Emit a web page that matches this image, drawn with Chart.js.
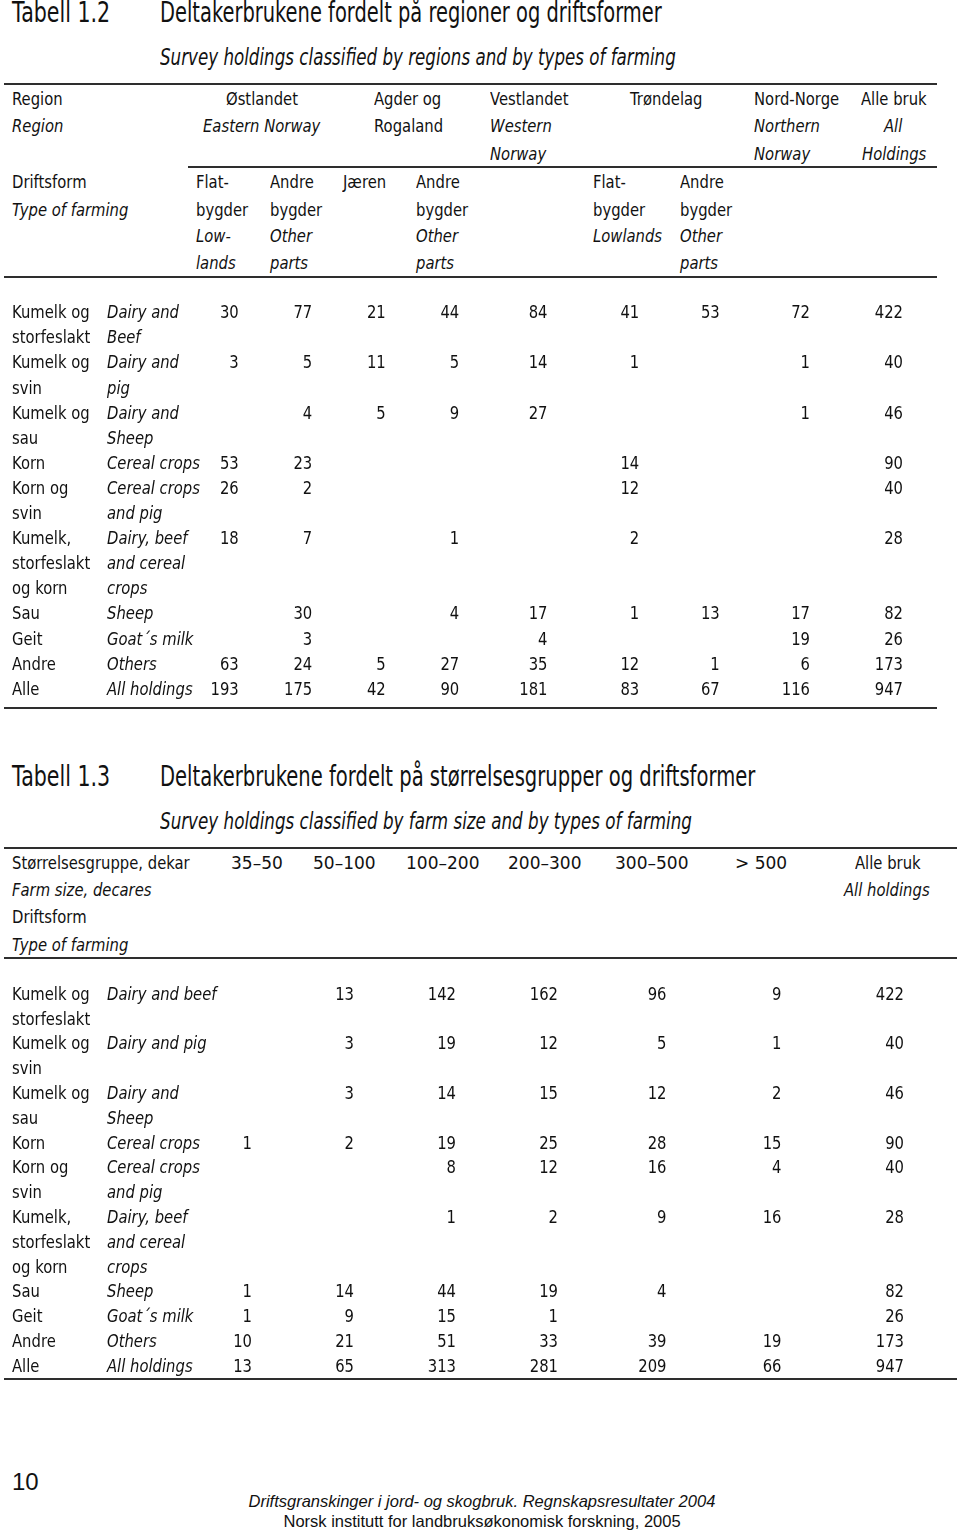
<!DOCTYPE html>
<html><head><meta charset="utf-8">
<script src="https://cdn.jsdelivr.net/npm/chart.js@4.4.1/dist/chart.umd.min.js"></script>
<style>
html,body{margin:0;padding:0;background:#fff;}
#page{position:relative;width:960px;height:1530px;overflow:hidden;background:#fff;color:#111;
  font-family:"DejaVu Sans",sans-serif;}
.t{position:absolute;white-space:nowrap;line-height:1;transform-origin:0 0;}
.i{font-style:italic;}
.foot{font-family:"Liberation Sans",Arial,sans-serif;}
.rule{position:absolute;height:2px;background:#2e2e2e;}
canvas{position:absolute;left:0;}
</style></head><body><div id="page">
<canvas id="c1" width="960" height="420" style="top:290px"></canvas>
<canvas id="c2" width="960" height="410" style="top:970px"></canvas>
</div>
<script>
// ---------- DATA ----------
const regionColumns = ['Østlandet flatbygder','Østlandet andre bygder','Jæren','Agder og Rogaland andre bygder','Vestlandet','Trøndelag flatbygder','Trøndelag andre bygder','Nord-Norge','Alle bruk'];
const sizeColumns = ['35–50','50–100','100–200','200–300','300–500','> 500','Alle bruk'];

const farmTypesNo = [['Kumelk og','storfeslakt'],['Kumelk og','svin'],['Kumelk og','sau'],['Korn'],['Korn og','svin'],['Kumelk,','storfeslakt','og korn'],['Sau'],['Geit'],['Andre'],['Alle']];
const farmTypesEnRegion = [['Dairy and','Beef'],['Dairy and','pig'],['Dairy and','Sheep'],['Cereal crops'],['Cereal crops','and pig'],['Dairy, beef','and cereal','crops'],['Sheep'],['Goat\u00b4s milk'],['Others'],['All holdings']];
const farmTypesEnSize = [['Dairy and beef'],['Dairy and pig'],['Dairy and','Sheep'],['Cereal crops'],['Cereal crops','and pig'],['Dairy, beef','and cereal','crops'],['Sheep'],['Goat\u00b4s milk'],['Others'],['All holdings']];

// Tabell 1.2 – by region (columns as regionColumns)
const regionDairyBeef   = [30, 77, 21, 44, 84, 41, 53, 72, 422];
const regionDairyPig    = [3, 5, 11, 5, 14, 1, null, 1, 40];
const regionDairySheep  = [null, 4, 5, 9, 27, null, null, 1, 46];
const regionCereal      = [53, 23, null, null, null, 14, null, null, 90];
const regionCerealPig   = [26, 2, null, null, null, 12, null, null, 40];
const regionDairyCereal = [18, 7, null, 1, null, 2, null, null, 28];
const regionSheep       = [null, 30, null, 4, 17, 1, 13, 17, 82];
const regionGoat        = [null, 3, null, null, 4, null, null, 19, 26];
const regionOthers      = [63, 24, 5, 27, 35, 12, 1, 6, 173];
const regionAll         = [193, 175, 42, 90, 181, 83, 67, 116, 947];

// Tabell 1.3 – by farm size (columns as sizeColumns)
const sizeDairyBeef   = [null, 13, 142, 162, 96, 9, 422];
const sizeDairyPig    = [null, 3, 19, 12, 5, 1, 40];
const sizeDairySheep  = [null, 3, 14, 15, 12, 2, 46];
const sizeCereal      = [1, 2, 19, 25, 28, 15, 90];
const sizeCerealPig   = [null, null, 8, 12, 16, 4, 40];
const sizeDairyCereal = [null, null, 1, 2, 9, 16, 28];
const sizeSheep       = [1, 14, 44, 19, 4, null, 82];
const sizeGoat        = [1, 9, 15, 1, null, null, 26];
const sizeOthers      = [10, 21, 51, 33, 39, 19, 173];
const sizeAll         = [13, 65, 313, 281, 209, 66, 947];

// column groups (index ranges into the column lists) and their table widths (layout)
const regionGroups = [[0, 2], [2, 4], [4, 5], [5, 7], [7, 8], [8, 9]];
const regionGroupWidths = [147, 147, 103, 161, 100, 86];
const sizeGroups = [[0, 4], [4, 6], [6, 7]];
const sizeGroupWidths = [408, 230, 130];

// ---------- STATIC TEXT ----------
const SX = 0.8;          // condensed look
const B = 18.5;          // body font size
const page = document.getElementById('page');
function txt(s, x, cy, fs, opt) {
  opt = opt || {};
  const e = document.createElement('div');
  e.className = 't' + (opt.it ? ' i' : '') + (opt.cls ? ' ' + opt.cls : '');
  e.textContent = s;
  e.style.fontSize = fs + 'px';
  e.style.top = (cy - 0.48 * fs) + 'px';
  page.appendChild(e);
  let sx = opt.sx || SX;
  if (opt.fit) sx = opt.fit / e.offsetWidth;
  e.style.transform = 'scaleX(' + sx + ')';
  const w = e.offsetWidth * sx;
  let left = x;
  if (opt.align === 'center') left = x - w / 2;
  if (opt.align === 'right') left = x - w;
  e.style.left = left + 'px';
  return e;
}
function rule(x1, x2, y, h) {
  const e = document.createElement('div');
  e.className = 'rule';
  e.style.left = x1 + 'px'; e.style.width = (x2 - x1) + 'px';
  e.style.top = (y - (h || 2) / 2) + 'px'; e.style.height = (h || 2) + 'px';
  page.appendChild(e);
}
// Tabell 1.2 header
txt('Tabell 1.2', 12, 11.7, 27.5, {fit:98});
txt('Deltakerbrukene fordelt på regioner og driftsformer', 160, 11.7, 27.5, {fit:502});
txt('Survey holdings classified by regions and by types of farming', 160, 56.5, 22.5, {it:1, fit:516});
rule(4, 937, 84);
txt('Region', 12, 99, B); txt('Region', 12, 126, B, {it:1});
txt('Driftsform', 12, 182, B); txt('Type of farming', 12, 210, B, {it:1});
txt('Østlandet', 262, 99, B, {align:'center'}); txt('Eastern Norway', 262, 126, B, {it:1, align:'center'});
txt('Agder og', 408, 99, B, {align:'center'}); txt('Rogaland', 408, 126, B, {align:'center'});
txt('Vestlandet', 490, 99, B); txt('Western', 490, 126, B, {it:1}); txt('Norway', 490, 154, B, {it:1});
txt('Trøndelag', 666, 99, B, {align:'center'});
txt('Nord-Norge', 754, 99, B); txt('Northern', 754, 126, B, {it:1}); txt('Norway', 754, 154, B, {it:1});
txt('Alle bruk', 894, 99, B, {align:'center'}); txt('All', 893, 126, B, {it:1, align:'center'}); txt('Holdings', 894, 154, B, {it:1, align:'center'});
rule(188, 937, 167, 1.6);
[[196, ['Flat-','bygder'], ['Low-','lands']], [270, ['Andre','bygder'], ['Other','parts']], [343, ['Jæren'], []],
 [416, ['Andre','bygder'], ['Other','parts']], [593, ['Flat-','bygder'], ['Lowlands']], [680, ['Andre','bygder'], ['Other','parts']]]
 .forEach(([x, no, en]) => {
   const ys = [182, 210, 236, 263];
   no.forEach((s, j) => txt(s, x, ys[j], B));
   en.forEach((s, j) => txt(s, x, ys[no.length + j], B, {it:1}));
 });
rule(4, 937, 277);
rule(4, 937, 708);

// Tabell 1.3 header
txt('Tabell 1.3', 12, 776, 27.5, {fit:98});
txt('Deltakerbrukene fordelt på størrelsesgrupper og driftsformer', 160, 776, 27.5, {fit:595});
txt('Survey holdings classified by farm size and by types of farming', 160, 821, 22.5, {it:1, fit:532});
rule(4, 957, 848);
txt('Størrelsesgruppe, dekar', 12, 863, B); txt('Farm size, decares', 12, 890, B, {it:1});
txt('Driftsform', 12, 917, B); txt('Type of farming', 12, 945, B, {it:1});
const sizeHeadX = [231, 313, 406, 508, 615, 735];
sizeColumns.slice(0, 6).forEach((s, i) => txt(s, sizeHeadX[i], 863, B, {sx:0.92}));
txt('Alle bruk', 888, 863, B, {align:'center'}); txt('All holdings', 887, 890, B, {it:1, align:'center'});
rule(4, 957, 958);
rule(4, 957, 1379);

// footer
txt('10', 12, 1482, 24, {sx:1, cls:'foot'});
txt('Driftsgranskinger i jord- og skogbruk. Regnskapsresultater 2004', 482, 1501, 16.5, {it:1, sx:1, cls:'foot', align:'center'});
txt('Norsk institutt for landbruksøkonomisk forskning, 2005', 482, 1521, 16.5, {sx:1, cls:'foot', align:'center'});

// ---------- CHARTS ----------
const FONT = '"DejaVu Sans",sans-serif';
function drawScaled(ctx, s, x, y, align) {
  ctx.save();
  ctx.translate(x, y);
  ctx.scale(SX, 1);
  ctx.textAlign = align;
  ctx.fillText(s, 0, 0);
  ctx.restore();
}
const tableText = {
  id: 'tableText',
  afterDatasetsDraw(chart, args, opts) {
    const ctx = chart.ctx, ys = chart.scales.y;
    const dy = 0.3645 * opts.size;
    ctx.save();
    ctx.fillStyle = '#111';
    ctx.textBaseline = 'alphabetic';
    ctx.font = opts.size + 'px ' + FONT;
    chart.data.datasets.forEach((ds, di) => {
      chart.getDatasetMeta(di).data.forEach((el, i) => {
        // numbers right-aligned on a tab stop just right of the cell centre
        drawScaled(ctx, String(ds.data[i].v), el.x + opts.tab, el.y + dy, 'right');
      });
    });
    opts.labelsNo.forEach((no, k) => {
      ctx.font = opts.size + 'px ' + FONT;
      no.forEach((s, j) => drawScaled(ctx, s, opts.noX, ys.getPixelForValue(opts.firstLine[k] + j) + dy, 'left'));
      ctx.font = 'italic ' + opts.size + 'px ' + FONT;
      opts.labelsEn[k].forEach((s, j) => drawScaled(ctx, s, opts.enX, ys.getPixelForValue(opts.firstLine[k] + j) + dy, 'left'));
    });
    ctx.restore();
  }
};

function buildTable(id, columns, groups, groupWidths, rows, labelsNo, labelsEn, pad) {
  const lineIds = [], firstLine = [];
  labelsNo.forEach((no, k) => {
    const n = Math.max(no.length, labelsEn[k].length);
    firstLine.push(lineIds.length);
    for (let j = 0; j < n; j++) lineIds.push(k + ':' + (no[j] || labelsEn[k][j]));
  });
  const scales = {};
  const axisOf = [];
  groups.forEach(([a, b], g) => {
    scales['x' + g] = {
      type: 'category', axis: 'x', position: 'bottom', stack: 'columns', stackWeight: groupWidths[g],
      labels: columns.slice(a, b), offset: true, display: false
    };
    for (let c = a; c < b; c++) axisOf[c] = 'x' + g;
  });
  scales.y = { type: 'category', labels: lineIds, offset: false, display: false };
  const datasets = columns.map((col, c) => ({
    label: col,
    xAxisID: axisOf[c], yAxisID: 'y',
    data: rows.map((vals, k) => vals[c] == null ? null : { x: col, y: lineIds[firstLine[k]], v: vals[c] }).filter(Boolean),
    pointRadius: 0, pointHoverRadius: 0, showLine: false
  }));
  return new Chart(document.getElementById(id), {
    type: 'scatter',
    data: { datasets },
    options: {
      responsive: false, animation: false, events: [],
      layout: { padding: pad },
      plugins: {
        legend: { display: false }, tooltip: { enabled: false },
        tableText: { labelsNo, labelsEn, firstLine, size: B, noX: 12, enX: 107, tab: 9 }
      },
      scales
    },
    plugins: [tableText]
  });
}

buildTable('c1', regionColumns, regionGroups, regionGroupWidths,
  [regionDairyBeef, regionDairyPig, regionDairySheep, regionCereal, regionCerealPig, regionDairyCereal, regionSheep, regionGoat, regionOthers, regionAll],
  farmTypesNo, farmTypesEnRegion, { left: 193, right: 23, top: 21.5, bottom: 22 });

buildTable('c2', sizeColumns, sizeGroups, sizeGroupWidths,
  [sizeDairyBeef, sizeDairyPig, sizeDairySheep, sizeCereal, sizeCerealPig, sizeDairyCereal, sizeSheep, sizeGoat, sizeOthers, sizeAll],
  farmTypesNo, farmTypesEnSize, { left: 192, right: 0, top: 23, bottom: 15 });
</script>
</body></html>
